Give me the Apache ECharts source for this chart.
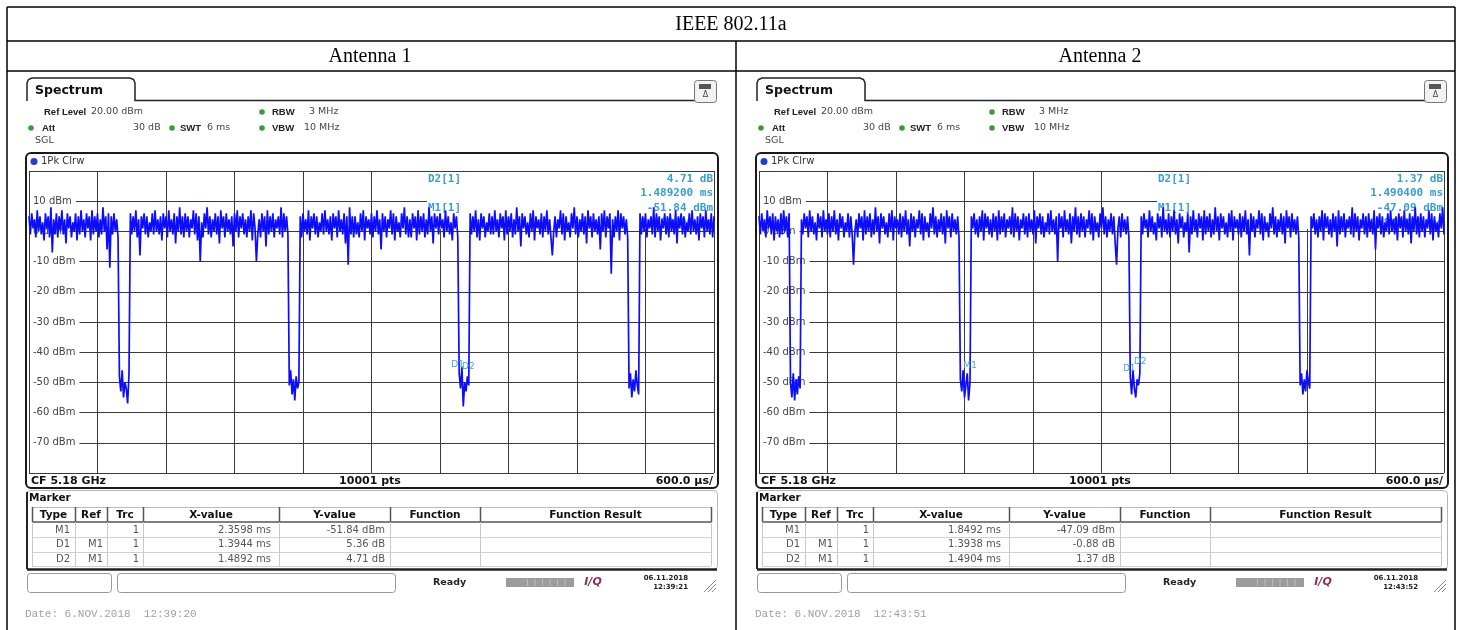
<!DOCTYPE html>
<html><head><meta charset="utf-8">
<script src="https://cdn.jsdelivr.net/npm/echarts@6/dist/echarts.min.js"></script>
<style>html,body{margin:0;padding:0;background:#fff}#c{width:1461px;height:630px}</style>
</head><body><div id="c"></div>
<script>
// sampling step of the traces (ms)
const STEP_MS = 0.012;
// Antenna 1 trace, dBm, 501 samples 0..6 ms
const trace1 = [
5,-1,6,1,4,-2,7,0,5,-1,3,-3,6,1,5,-2,8,-7,4,-1,
6,-2,5,0,7,-1,4,-4,6,1,5,-2,3,0,6,-3,5,-1,7,0,
4,-2,6,1,5,-3,7,-1,5,0,6,-2,4,-1,8,0,5,-6,6,-12,
5,-1,6,0,4,-2,
-48,-53,-46,-55,-50,-52,-57,-47,
6,-1,5,0,7,-2,4,-8,5,1,6,-1,5,-2,3,0,6,-1,7,0,
4,-1,5,-3,6,1,5,-2,7,0,4,-1,6,-4,5,0,8,-1,5,-2,
6,0,5,-2,4,1,7,-1,6,-3,5,-10,3,-2,6,1,8,-1,5,-2,
4,0,6,-1,5,-4,7,1,5,-2,6,0,4,-1,5,-5,6,0,7,-2,
5,1,6,-1,4,-2,5,0,7,-3,6,1,-10,-1,4,-2,6,0,5,-5,
7,-1,5,0,6,-2,4,1,5,-1,8,-2,6,0,5,-1,
-51,-46,-54,-49,-56,-48,-52,-50,
5,-2,6,0,4,-1,7,-3,5,1,6,-1,5,-2,3,0,6,-1,7,0,
4,-1,5,-3,6,1,5,-2,7,0,4,-1,6,-4,5,-11,8,-1,5,-2,
5,-1,3,-2,6,0,7,-3,5,1,4,-1,6,-2,5,0,7,-1,4,-6,
6,0,5,-2,4,1,7,-1,6,-3,5,0,3,-2,6,1,8,-1,5,-2,
4,-2,6,1,5,-3,7,-1,5,0,6,-2,4,-1,8,0,5,-4,6,1,
5,-1,6,1,4,-2,7,0,5,-1,3,-3,6,1,5,-2,
-47,-52,-45,-58,-50,-53,-48,-51,
6,-1,5,0,7,-2,4,-3,6,1,5,-2,3,0,6,-1,5,-1,7,0,
4,-2,6,1,5,-3,7,-1,5,0,6,-2,4,-1,8,0,5,-5,6,1,
5,-1,3,-2,6,0,7,-3,5,1,4,-1,6,-2,5,0,7,-1,4,-2,
-8,0,5,-2,4,1,7,-1,6,-3,5,0,3,-2,6,1,8,-1,5,-2,
4,0,6,-1,5,-4,7,1,5,-2,6,0,4,-1,5,-6,6,0,7,-2,
5,1,6,-14,4,-2,5,0,7,-3,6,1,5,-1,4,-2,
-52,-47,-55,-49,-53,-46,-51,-54,
6,-1,5,0,6,-2,4,1,5,-1,8,-2,6,0,5,-3,4,1,6,-1,
5,-2,6,0,4,-1,7,-4,5,1,6,-1,5,-2,3,0,6,-1,7,0,
4,-1,5,-3,6,1,5,-2,7,0,4,-1,6,-2,5
];
// Antenna 2 trace, dBm, 501 samples 0..6 ms
const trace2 = [
5,-1,6,0,4,-2,7,1,5,-1,6,-3,5,0,4,-2,6,-1,7,0,5,-2,6,
-50,-55,-47,-56,-49,-54,-48,-52,
4,-1,6,1,5,-2,7,0,5,-1,3,-3,6,1,5,-2,7,0,4,-1,
6,-2,5,0,7,-1,4,-3,6,1,5,-2,3,0,6,-2,5,-1,-11,0,
4,-2,6,1,5,-3,7,-1,5,0,6,-2,4,-1,8,0,5,-4,6,1,
5,-1,3,-2,6,0,7,-3,5,1,4,-1,6,-2,5,0,7,-1,4,-5,
6,0,5,-2,4,1,7,-1,6,-3,5,0,3,-2,6,1,8,-1,5,-2,
4,0,6,-1,5,-4,7,1,5,-2,6,0,4,-1,5,-2,
-49,-53,-46,-55,-51,-47,-56,-50,
5,1,6,-1,4,-2,5,0,7,-3,6,1,5,-1,4,-2,6,0,5,-3,
7,-1,5,0,6,-2,4,1,5,-1,8,-2,6,0,5,-3,4,1,6,-1,
5,-2,6,0,4,-1,7,-4,5,1,6,-1,5,-2,3,0,6,-1,7,0,
4,-1,5,-10,6,1,5,-2,7,0,4,-1,6,-4,5,0,8,-1,5,-2,
6,0,5,-2,4,1,7,-1,6,-3,5,0,3,-2,6,1,8,-1,5,-2,
4,0,6,-1,5,-4,-11,1,5,-2,6,0,4,-1,5,-2,
-48,-54,-46,-52,-55,-49,-51,-47,
5,-1,6,1,4,-2,7,0,5,-1,3,-3,6,1,5,-2,8,0,4,-1,
6,-2,5,0,7,-1,4,-4,6,1,5,-2,3,0,6,-7,5,-1,7,0,
4,-2,6,1,5,-3,7,-1,5,0,6,-2,4,-1,8,0,5,-3,6,1,
5,-1,3,-2,6,0,7,-3,5,1,4,-1,6,-2,5,0,7,-1,4,-8,
6,0,5,-2,4,1,7,-1,6,-3,5,0,3,-2,6,1,8,-1,5,-2,
4,0,6,-1,5,-4,7,1,5,-2,6,0,4,-1,5,-2,
-51,-47,-54,-49,-53,-46,-50,-52,
5,1,6,-1,4,-2,5,0,7,-3,6,1,5,-1,4,-2,6,0,5,-5,
7,-1,5,0,6,-2,4,1,5,-1,8,-2,6,0,5,-3,4,1,6,-1,
5,-2,6,0,4,-1,7,-6,5,1,6,-1,5,-2,3,0,6,-1,7,0,
4,-1,5,-3,6,1,5,-2,7,0,4,-1,6,-4,5,0,8,-1,5,-2,
6,0,5,-2,4,1,7,-1,6,-3,5,0,3,-2,6,1,8,-1
];
// marker table rows: [type, ref, trc, x-value, y-value]
const markerRows1 = [
  ['M1','','1','2.3598 ms','-51.84 dBm'],
  ['D1','M1','1','1.3944 ms','5.36 dB'],
  ['D2','M1','1','1.4892 ms','4.71 dB']
];
const markerRows2 = [
  ['M1','','1','1.8492 ms','-47.09 dBm'],
  ['D1','M1','1','1.3938 ms','-0.88 dB'],
  ['D2','M1','1','1.4904 ms','1.37 dB']
];
// markers drawn on the traces (ms, dBm)
const markerPts1 = [{name:'D1', x:3.7542, y:-46.48},{name:'D2', x:3.8490, y:-47.13}];
const markerPts2 = [{name:'M1', x:1.8492, y:-47.09},{name:'D1', x:3.2430, y:-47.97},{name:'D2', x:3.3396, y:-45.72}];
// marker info readouts
const info1 = ['D2[1]','4.71 dB','1.489200 ms','M1[1]','-51.84 dBm','2.359800 ms'];
const info2 = ['D2[1]','1.37 dB','1.490400 ms','M1[1]','-47.09 dBm','1.849200 ms'];
const statusTimes1 = ['06.11.2018','12:39:21','Date: 6.NOV.2018  12:39:20'];
const statusTimes2 = ['06.11.2018','12:43:52','Date: 6.NOV.2018  12:43:51'];
const tableHeaders = ['Type','Ref','Trc','X-value','Y-value','Function','Function Result'];

const chart = echarts.init(document.getElementById('c'), null, {renderer:'canvas'});
const G = [];
const SANS = '"DejaVu Sans"';
function txt(text, x, y, font, fill, align, z){
  G.push({type:'text', z: z==null?10:z, style:{text, x, y, font, fill: fill||'#222',
    textAlign: align||'left', align: align||'left', textVerticalAlign:'middle', verticalAlign:'middle'}});
}
function line(x1,y1,x2,y2,stroke,lw,z){
  G.push({type:'line', z: z==null?10:z, shape:{x1,y1,x2,y2}, style:{stroke, lineWidth:lw||1}});
}
function rect(x,y,w,h,o){
  G.push({type:'rect', z: o.z==null?10:o.z, shape:{x,y,width:w,height:h,r:o.r||0},
    style:{fill:o.fill||'none', stroke:o.stroke||'none', lineWidth:o.lw||1}});
}
function dot(cx,cy,r,fill){ G.push({type:'circle', z:10, shape:{cx,cy,r}, style:{fill}}); }

// outer table
line(7,7,1455,7,'#000',1.5); line(7,7,7,630,'#000',1.5); line(1455,7,1455,630,'#000',1.5);
line(7,41,1455,41,'#000',1.5); line(7,71,1455,71,'#000',1.5); line(736,41,736,630,'#000',1.5);
txt('IEEE 802.11a', 731, 25, '20px "Liberation Serif"', '#000', 'center');
txt('Antenna 1', 370, 57, '20px "Liberation Serif"', '#000', 'center');
txt('Antenna 2', 1100, 57, '20px "Liberation Serif"', '#000', 'center');

function panel(ox, info, rows, st){
  // tab
  G.push({type:'polyline', z:10, shape:{points:[[ox+27,101],[ox+27,83],[ox+28.5,79.5],[ox+32,78],[ox+130,78],[ox+133.5,79.5],[ox+135,83],[ox+135,100.5],[ox+716,100.5]]},
    style:{stroke:'#222', lineWidth:1.5, fill:'none'}});
  txt('Spectrum', ox+35, 91, 'bold 12.5px '+SANS, '#111');
  rect(ox+694.5,80.5,22,22,{r:3, stroke:'#777', fill:'#f2f2f2'});
  rect(ox+699,84,12,5,{fill:'#555', z:11});
  txt('\u0394', ox+705.5, 95, '8px '+SANS, '#444', 'center', 11);
  // settings
  const B = 'bold 9.5px "Liberation Sans"', N = '9.5px '+SANS, GR = '#3f9a3f';
  txt('Ref Level', ox+44, 112, B); txt('20.00 dBm', ox+91, 112, N, '#444');
  dot(ox+262,112,2.8,GR); txt('RBW', ox+272, 112, B); txt('3 MHz', ox+309, 112, N, '#444');
  dot(ox+31,128,2.8,GR); txt('Att', ox+42, 128, B); txt('30 dB', ox+133, 128, N, '#444');
  dot(ox+172,128,2.8,GR); txt('SWT', ox+180, 128, B); txt('6 ms', ox+207, 128, N, '#444');
  dot(ox+262,128,2.8,GR); txt('VBW', ox+272, 128, B); txt('10 MHz', ox+304, 128, N, '#444');
  txt('SGL', ox+35, 141, N, '#444');
  // plot frame
  rect(ox+26,153,692,335,{r:5, stroke:'#1a1a1a', lw:2});
  dot(ox+34,161.5,3.5,'#1f3fd0'); txt('1Pk Clrw', ox+41, 161.5, '10px '+SANS, '#333');
  txt('CF 5.18 GHz', ox+31, 481, 'bold 11px '+SANS, '#111');
  txt('10001 pts', ox+370, 481, 'bold 11px '+SANS, '#111', 'center');
  txt('600.0 \u00b5s/', ox+713, 481, 'bold 11px '+SANS, '#111', 'right');
  // marker readout box (below trace)
  rect(ox+427,172,287,57,{fill:'#fff', z:1});
  const MF = 'bold 11px "DejaVu Sans Mono"', MC = '#3a9ecf';
  txt(info[0], ox+428, 179, MF, MC, 'left', 1);
  txt(info[1], ox+713, 179, MF, MC, 'right', 1);
  txt(info[2], ox+713, 193, MF, MC, 'right', 1);
  txt(info[3], ox+428, 208, MF, MC, 'left', 1);
  txt(info[4], ox+713, 208, MF, MC, 'right', 1);
  txt(info[5], ox+713, 223, MF, MC, 'right', 1);
  // marker table panel
  rect(ox+26.5,490.5,691,79,{r:4, stroke:'#b5b5b5', fill:'#fff'});
  line(ox+27,492,ox+27,569,'#222',2); line(ox+27,569.5,ox+717,569.5,'#222',2.5);
  txt('Marker', ox+29, 498, 'bold 10.5px '+SANS, '#111');
  const cols = [32,75,107,143,279,390,480,711];
  line(ox+32,507.5,ox+711,507.5,'#bbb',1);
  line(ox+32,522,ox+711,522,'#555',1.5);
  line(ox+32,537.5,ox+711,537.5,'#d0d0d0',1);
  line(ox+32,552.5,ox+711,552.5,'#d0d0d0',1);
  line(ox+32,566.5,ox+711,566.5,'#d0d0d0',1);
  cols.forEach(c => { line(ox+c+0.5,507,ox+c+0.5,522,'#555',1.5); line(ox+c+0.5,522,ox+c+0.5,566,'#c8c8c8',1); });
  tableHeaders.forEach((h,i) => txt(h, ox+(cols[i]+cols[i+1])/2, 515, 'bold 10.5px '+SANS, '#111', 'center'));
  const rightEdges = [70,103,139,271,385];
  rows.forEach((r,j) => r.forEach((v,i) => txt(v, ox+rightEdges[i], 530+j*14.5, '10px '+SANS, '#555', 'right')));
  // status bar
  rect(ox+27.5,573.5,84,19,{r:3, stroke:'#999'});
  rect(ox+117.5,573.5,278,19,{r:3, stroke:'#999'});
  txt('Ready', ox+433, 583, 'bold 9.5px '+SANS, '#222');
  rect(ox+506,578,68,9,{fill:'#9c9c9c'});
  for (let k=1;k<7;k++) line(ox+520+k*7.5,579,ox+520+k*7.5,586,'#bdbdbd',1);
  txt('I/Q', ox+593, 582, 'bold italic 11px '+SANS, '#8a2f55', 'center');
  txt(st[0], ox+688, 578, 'bold 7px '+SANS, '#222', 'right');
  txt(st[1], ox+688, 587, 'bold 7px '+SANS, '#222', 'right');
  line(ox+704,592,ox+716,580,'#888',1); line(ox+708,592,ox+716,584,'#888',1); line(ox+712,592,ox+716,588,'#888',1);
  txt(st[2], ox+25, 614, '11px "Liberation Mono"', '#a0a0a0');
}
panel(0, info1, markerRows1, statusTimes1);
panel(730, info2, markerRows2, statusTimes2);

const gridLine = {show:true, lineStyle:{color:'#3a3a3a', width:1}};
function xAx(i){ return {type:'value', gridIndex:i, min:0, max:6, interval:0.6, splitLine:gridLine,
  axisLine:{show:false}, axisTick:{show:false}, axisLabel:{show:false}}; }
function yAx(i){ return {type:'value', gridIndex:i, min:-80, max:20, interval:10, splitLine:gridLine,
  axisLine:{show:false}, axisTick:{show:false},
  axisLabel:{inside:true, margin:1, showMinLabel:false, showMaxLabel:false, formatter:v=>v+' dBm',
    color:'#444', fontSize:10, fontFamily:'DejaVu Sans', backgroundColor:'#fff', padding:[0,4,0,3]}}; }
function ser(i, data, pts){
  return {type:'line', xAxisIndex:i, yAxisIndex:i, data:data.map((v,k)=>[+(k*STEP_MS).toFixed(4), v]),
    showSymbol:false, symbol:'none', lineStyle:{color:'#0c0cff', width:1.7}, animation:false, silent:true, z:2,
    markPoint:{symbol:'circle', symbolSize:0, silent:true, animation:false,
      label:{show:true, position:'top', distance:3, formatter:'{b}', color:'#45a6d8', fontSize:9, fontFamily:'DejaVu Sans'},
      data: pts.map(p=>({name:p.name, coord:[p.x,p.y]}))}};
}
chart.setOption({
  backgroundColor:'#fff', animation:false,
  grid:[{left:29, top:171, width:685, height:302},{left:759, top:171, width:685, height:302}],
  xAxis:[xAx(0), xAx(1)], yAxis:[yAx(0), yAx(1)],
  series:[ser(0, trace1, markerPts1), ser(1, trace2, markerPts2)],
  graphic: G
});
</script></body></html>
